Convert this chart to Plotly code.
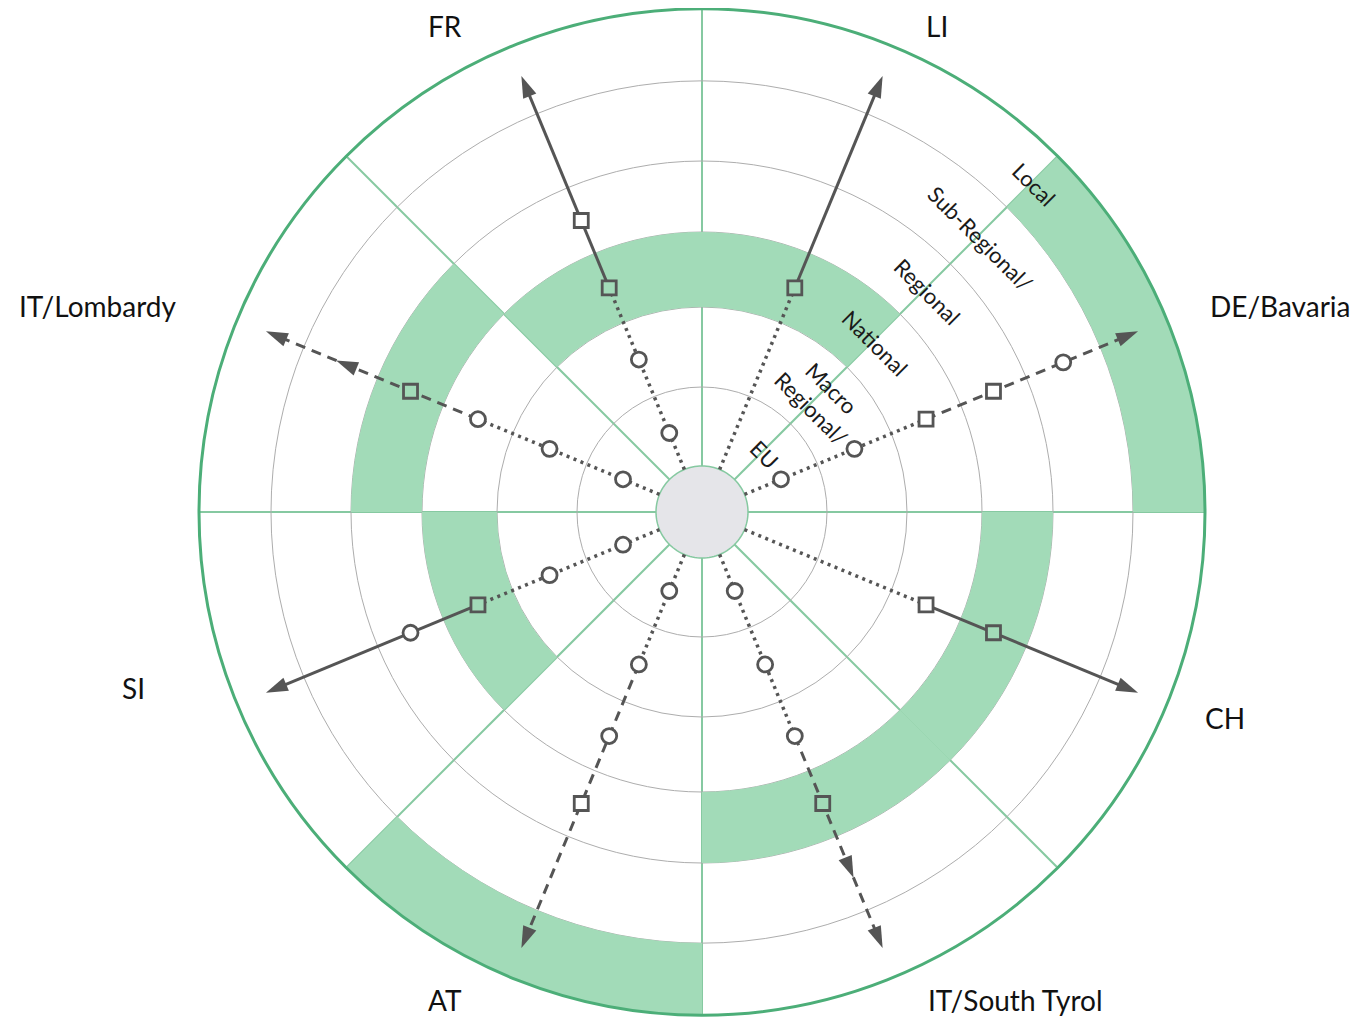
import numpy as np
import plotly.graph_objects as go

# ---------------- data ----------------
levels = ["EU", "Macro Regional", "National", "Regional", "Sub-Regional", "Local"]
level_labels = ["EU", "Macro<br>Regional/", "National", "Regional", "Sub-Regional/", "Local"]

# countries in sector order, counter-clockwise starting east
countries = ["DE/Bavaria", "LI", "FR", "IT/Lombardy", "SI", "AT", "IT/South Tyrol", "CH"]
shaded_level = ["Local", "National", "National", "Regional", "National", "Local", "Regional", "Regional"]
dotted_until = ["National", "National", "National", "National", "National", "Macro Regional", "National", "National"]
outer_style = ["dash", "solid", "solid", "dash", "solid", "dash", "dash", "solid"]
circle_levels = [
    ["EU", "Macro Regional", "Sub-Regional"],
    [],
    ["EU", "Macro Regional"],
    ["EU", "Macro Regional", "National"],
    ["EU", "Macro Regional", "Regional"],
    ["EU", "Macro Regional", "National"],
    ["EU", "Macro Regional", "National"],
    [],
]
square_levels = [
    ["National", "Regional"],
    ["National"],
    ["National", "Regional"],
    ["Regional"],
    ["National"],
    ["Regional"],
    ["Regional"],
    ["National", "Regional"],
]
arrow_levels = [
    ["Local"], ["Local"], ["Local"], ["Sub-Regional", "Local"],
    ["Local"], ["Local"], ["Sub-Regional", "Local"], ["Local"],
]

# ---------------- layout constants ----------------
ring_edges = [46, 125, 205, 280, 351, 431, 503]
R = ring_edges[-1]
ARROW_OFFSET = 5   # arrow tips sit slightly beyond the ring middle
label_pos = {  # country label centres relative to the circle centre (pixels, y up)
    "FR": (-257, 486), "LI": (235, 486), "DE/Bavaria": (578, 206), "CH": (523, -206),
    "IT/South Tyrol": (313, -488), "AT": (-257, -488), "SI": (-569, -176), "IT/Lombardy": (-605, 206),
}

BAND = "#a2dbb8"
GRIDGREEN = "#86c9a1"
OUTER = "#4cae78"
RAY = "#555555"
W, H = 1351, 1016          # page body has an 8px margin
cx_px, cy_px = 694, 504    # circle centre inside the figure

def mid(lv):
    i = levels.index(lv)
    return (ring_edges[i] + ring_edges[i + 1]) / 2

def inner(lv):
    return ring_edges[levels.index(lv)]

def outer(lv):
    return ring_edges[levels.index(lv) + 1]

sector_theta = [22.5 + 45 * i for i in range(len(countries))]

fig = go.Figure()

# shaded bands
fig.add_trace(go.Barpolar(
    theta=sector_theta,
    base=[inner(s) for s in shaded_level],
    r=[outer(s) - inner(s) for s in shaded_level],
    width=[45] * len(countries),
    marker=dict(color=BAND, line=dict(width=0)),
    hoverinfo="skip", showlegend=False,
))

# centre disk
circ = np.linspace(0, 360, 121)
fig.add_trace(go.Scatterpolar(
    r=[ring_edges[0]] * len(circ), theta=circ, mode="lines",
    fill="toself", fillcolor="#e5e5e9", line=dict(color=GRIDGREEN, width=1.5),
    hoverinfo="skip", showlegend=False,
))

for i, c in enumerate(countries):
    th = sector_theta[i]
    sw = mid(dotted_until[i])
    tip = mid("Local") + ARROW_OFFSET
    fig.add_trace(go.Scatterpolar(
        r=[ring_edges[0], sw], theta=[th, th], mode="lines",
        line=dict(color=RAY, width=3.5, dash="3px,4.5px"),
        hoverinfo="skip", showlegend=False,
    ))
    fig.add_trace(go.Scatterpolar(
        r=[sw, tip - 8], theta=[th, th], mode="lines",
        line=dict(color=RAY, width=3, dash="solid" if outer_style[i] == "solid" else "10px,7px"),
        hoverinfo="skip", showlegend=False,
    ))
    if circle_levels[i]:
        fig.add_trace(go.Scatterpolar(
            r=[mid(l) for l in circle_levels[i]], theta=[th] * len(circle_levels[i]),
            mode="markers",
            marker=dict(symbol="circle", size=15,
                        color=[BAND if l == shaded_level[i] else "white" for l in circle_levels[i]],
                        line=dict(color=RAY, width=2.8)),
            hoverinfo="skip", showlegend=False,
        ))
    if square_levels[i]:
        fig.add_trace(go.Scatterpolar(
            r=[mid(l) for l in square_levels[i]], theta=[th] * len(square_levels[i]),
            mode="markers",
            marker=dict(symbol="square", size=14,
                        color=[BAND if l == shaded_level[i] else "white" for l in square_levels[i]],
                        line=dict(color=RAY, width=2.8)),
            hoverinfo="skip", showlegend=False,
        ))
    fig.add_trace(go.Scatterpolar(
        r=[mid(l) + ARROW_OFFSET for l in arrow_levels[i]],
        theta=[th] * len(arrow_levels[i]),
        mode="markers",
        marker=dict(symbol="arrow", size=23, angle=90 - th, color=RAY, line=dict(width=0)),
        hoverinfo="skip", showlegend=False,
    ))

# invisible cartesian overlay covering the whole figure, in pixels centred on the circle
fig.add_trace(go.Scatter(x=[0], y=[0], mode="markers", marker=dict(opacity=0),
                         hoverinfo="skip", showlegend=False, xaxis="x", yaxis="y"))

dom_x = [(cx_px - R) / W, (cx_px + R) / W]
dom_y = [(H - cy_px - R) / H, (H - cy_px + R) / H]

annotations = []
for lv, lab in zip(levels, level_labels):
    rm = mid(lv)
    annotations.append(dict(
        x=rm * np.cos(np.pi / 4) + 2, y=rm * np.sin(np.pi / 4) - 3, xref="x", yref="y",
        text=lab, showarrow=False, textangle=45,
        font=dict(family="Lato, sans-serif", size=22, color="#1a1a1a"),
    ))
for c in countries:
    x, y = label_pos[c]
    annotations.append(dict(
        x=x, y=y, xref="x", yref="y", text=c, showarrow=False, borderpad=0,
        font=dict(family="Lato, sans-serif", size=28, color="#111111"),
    ))

fig.update_layout(
    width=W, height=H, margin=dict(l=0, r=0, t=0, b=0),
    paper_bgcolor="white", plot_bgcolor="rgba(0,0,0,0)",
    showlegend=False,
    polar=dict(
        domain=dict(x=dom_x, y=dom_y),
        bgcolor="white",
        radialaxis=dict(range=[0, R], tickmode="array", tickvals=ring_edges[1:-1],
                        showticklabels=False, ticks="", showline=False,
                        gridcolor="#adadad", gridwidth=1.2),
        angularaxis=dict(tickmode="array", tickvals=[0, 45, 90, 135, 180, 225, 270, 315],
                         showticklabels=False, ticks="", rotation=0, direction="counterclockwise",
                         gridcolor=GRIDGREEN, gridwidth=1.5,
                         showline=True, linecolor=OUTER, linewidth=3),
    ),
    xaxis=dict(domain=[0, 1], range=[-cx_px, W - cx_px], visible=False, fixedrange=True),
    yaxis=dict(domain=[0, 1], range=[-(H - cy_px), cy_px], visible=False, fixedrange=True),
    annotations=annotations,
)

fig.write_html("out.html")
